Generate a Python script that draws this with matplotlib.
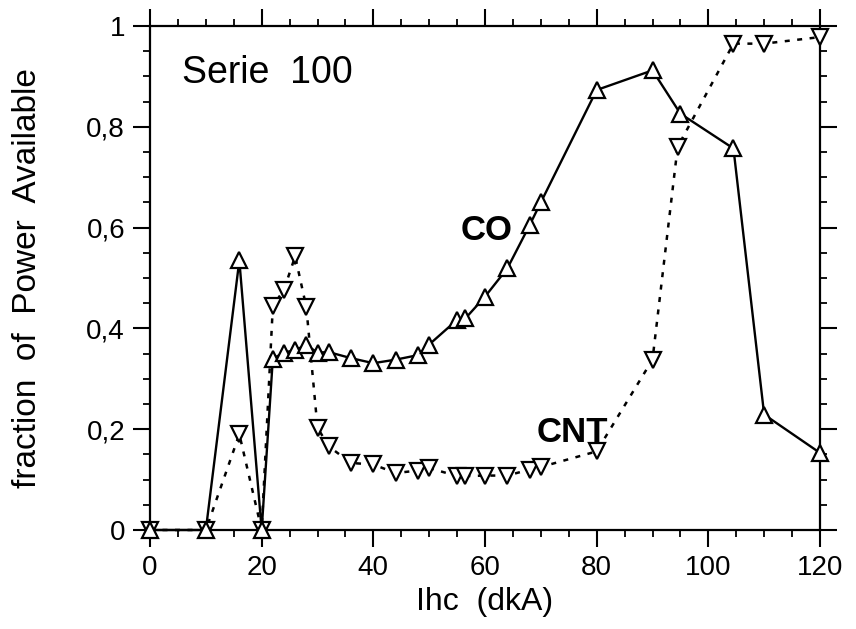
import numpy as np
import matplotlib
matplotlib.use('Agg')
import matplotlib.pyplot as plt
from matplotlib.ticker import MultipleLocator, FuncFormatter

plt.rcParams['font.family'] = ['Liberation Sans', 'DejaVu Sans']

# Ihc (dkA) et fraction de puissance disponible
co_x = [0, 10, 16, 20, 22, 24, 26, 28, 30, 32, 36, 40, 44, 48, 50, 55, 56.5, 60, 64, 68, 70, 80, 90, 95, 104.5, 110, 120]
co_y = [0, 0, 0.535, 0, 0.34, 0.352, 0.357, 0.367, 0.352, 0.353, 0.341, 0.331, 0.338, 0.347, 0.368, 0.417, 0.42,
        0.463, 0.519, 0.605, 0.65, 0.873, 0.912, 0.826, 0.757, 0.229, 0.153]

cnt_x = [0, 10, 16, 20, 22, 24, 26, 28, 30, 32, 36, 40, 44, 48, 50, 55, 56.5, 60, 64, 68, 70, 80, 90, 94.5, 104.5, 110, 120]
cnt_y = [0, 0, 0.19, 0, 0.444, 0.477, 0.543, 0.442, 0.203, 0.166, 0.133, 0.130, 0.113, 0.118, 0.123, 0.107, 0.107,
         0.108, 0.108, 0.120, 0.125, 0.156, 0.338, 0.760, 0.965, 0.965, 0.978]

yticks = [0, 0.2, 0.4, 0.6, 0.8, 1]
xticks = [0, 20, 40, 60, 80, 100, 120]

fig = plt.figure(figsize=(8.56, 6.29), dpi=100)
ax = fig.add_axes([150 / 856, 1 - 530 / 629, 670 / 856, 504 / 629])

# courbe CNT (pointillés, triangles vers le bas)
ax.plot(cnt_x, cnt_y, linestyle=(0, (2, 3)), color='black', lw=1.8,
        marker='v', ms=12, mfc='white', mec='black', mew=1.6, clip_on=False, zorder=3)
# courbe CO (trait plein, triangles vers le haut)
ax.plot(co_x, co_y, linestyle='-', color='black', lw=1.7,
        marker='^', ms=12, mfc='white', mec='black', mew=1.6, clip_on=False, zorder=4)

ax.set_xlim(0, 120)
ax.set_ylim(0, 1)
ax.set_xticks(xticks)
ax.set_yticks(yticks)
ax.xaxis.set_minor_locator(MultipleLocator(5))
ax.yaxis.set_minor_locator(MultipleLocator(0.05))
ax.yaxis.set_major_formatter(FuncFormatter(lambda v, p: ('%g' % v).replace('.', ',')))

ax.tick_params(which='both', direction='out', top=True, right=True, labeltop=False, labelright=False)
ax.tick_params(which='major', length=12, width=1.5, labelsize=20, pad=6)
ax.tick_params(which='minor', length=5, width=1.3)
for s in ax.spines.values():
    s.set_linewidth(1.6)

ax.set_xlabel('Ihc  (dkA)', fontsize=23)
ax.set_ylabel('fraction  of  Power  Available', fontsize=24)
ax.xaxis.set_label_coords(0.5, -0.113)
ax.yaxis.set_label_coords(-0.16, 0.5)

ax.text(5.7, 0.887, 'Serie  100', fontsize=27, ha='left', va='baseline')
ax.text(60.3, 0.575, 'CO', fontsize=25, fontweight='bold', ha='center', va='baseline')
ax.text(75.7, 0.175, 'CNT', fontsize=25, fontweight='bold', ha='center', va='baseline')

fig.savefig('out.png', dpi=100)
